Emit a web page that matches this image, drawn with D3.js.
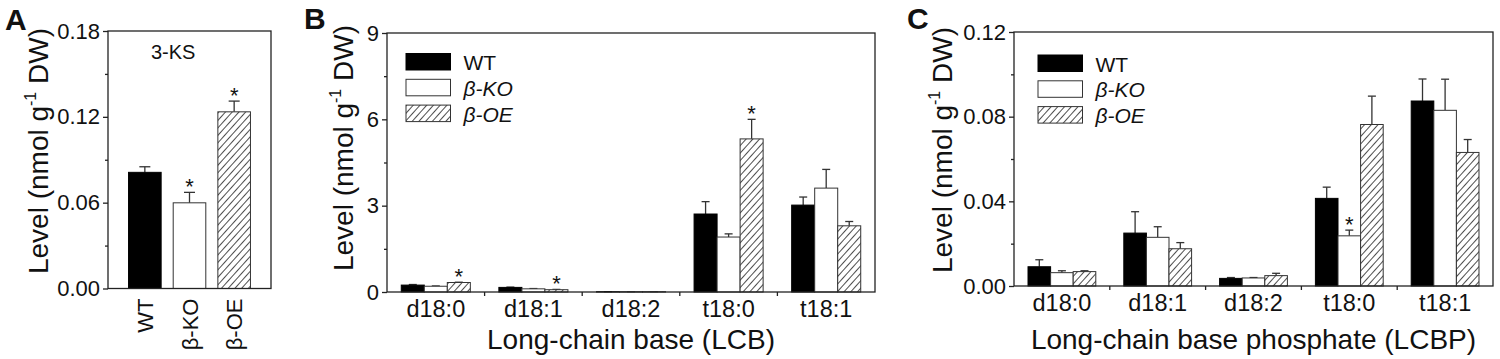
<!DOCTYPE html>
<html>
<head>
<meta charset="utf-8">
<script src="https://cdn.jsdelivr.net/npm/d3@7"></script>
<style>
  html, body { margin: 0; padding: 0; background: #fff; }
  svg { display: block; }
  text { font-family: "Liberation Sans", Arial, Helvetica, sans-serif; fill: #111; }
</style>
</head>
<body>
<svg id="chart" width="1500" height="359"></svg>
<script>
// ---------- DATA ----------
const seriesNames = ["WT", "β-KO", "β-OE"];

// Panel A: 3-KS
const ksLabels = ["WT", "β-KO", "β-OE"];
const ksValues = [0.0812, 0.0599, 0.1235];
const ksErrors = [0.0039, 0.0073, 0.0075];
const ksSignificant = [false, true, true];
const ksTicks = [0, 0.06, 0.12, 0.18];
const ksMinorTicks = [0.03, 0.09, 0.15];

// Panel B: Long-chain base (LCB)
const lcbCategories = ["d18:0", "d18:1", "d18:2", "t18:0", "t18:1"];
const lcbWT = [0.24, 0.16, 0.01, 2.71, 3.02];
const lcbWTErr = [0.02, 0.01, 0.003, 0.43, 0.28];
const lcbKO = [0.20, 0.11, 0.01, 1.91, 3.61];
const lcbKOErr = [0.01, 0.01, 0.003, 0.11, 0.65];
const lcbOE = [0.33, 0.08, 0.01, 5.32, 2.30];
const lcbOEErr = [0.01, 0.01, 0.003, 0.68, 0.15];
const lcbSigOE = [true, true, false, true, false];
const lcbSigKO = [false, false, false, false, false];
const lcbTicks = [0, 3, 6, 9];
const lcbMinorTicks = [1.5, 4.5, 7.5];

// Panel C: Long-chain base phosphate (LCBP)
const lcbpCategories = ["d18:0", "d18:1", "d18:2", "t18:0", "t18:1"];
const lcbpWT = [0.0091, 0.0250, 0.0036, 0.0414, 0.0874];
const lcbpWTErr = [0.0033, 0.0101, 0.0004, 0.0053, 0.0104];
const lcbpKO = [0.0063, 0.0230, 0.0038, 0.0237, 0.0830];
const lcbpKOErr = [0.0009, 0.0050, 0.0002, 0.0027, 0.0147];
const lcbpOE = [0.0068, 0.0176, 0.0049, 0.0763, 0.0631];
const lcbpOEErr = [0.0004, 0.0029, 0.0011, 0.0134, 0.0061];
const lcbpSigOE = [false, false, false, false, false];
const lcbpSigKO = [false, false, false, true, false];
const lcbpTicks = [0, 0.04, 0.08, 0.12];
const lcbpMinorTicks = [0.02, 0.06, 0.10];

// ---------- DRAWING ----------
const svg = d3.select("#chart");
const FONT = '"Liberation Sans", Arial, Helvetica, sans-serif';
const AXIS_COLOR = "#222";
const BAR_STROKE = "#333";

const defs = svg.append("defs");
const pat = defs.append("pattern")
  .attr("id", "hatch")
  .attr("patternUnits", "userSpaceOnUse")
  .attr("width", 5).attr("height", 5)
  .attr("patternTransform", "rotate(42)");
pat.append("rect").attr("width", 5).attr("height", 5).attr("fill", "#fff");
pat.append("line").attr("x1", 2.5).attr("y1", -1).attr("x2", 2.5).attr("y2", 6)
  .attr("stroke", "#3a3a3a").attr("stroke-width", 0.9);

const fills = ["#000", "#fff", "url(#hatch)"];
const strokes = ["#000", BAR_STROKE, BAR_STROKE];

function frameAndYAxis(g, box, y, ticks, minorTicks, fmt) {
  g.append("rect")
    .attr("x", box.left).attr("y", box.top)
    .attr("width", box.right - box.left).attr("height", box.bottom - box.top)
    .attr("fill", "none").attr("stroke", AXIS_COLOR).attr("stroke-width", 1.3);
  const yAxis = d3.axisLeft(y).tickValues(ticks).tickFormat(fmt).tickSize(5).tickPadding(3);
  const ya = g.append("g").attr("transform", `translate(${box.left},0)`).call(yAxis);
  ya.select(".domain").remove();
  ya.selectAll(".tick line").attr("stroke", AXIS_COLOR).attr("stroke-width", 1.3);
  ya.selectAll(".tick text").style("font-family", FONT).style("font-size", "22px").attr("fill", "#111");
  const yMinor = d3.axisLeft(y).tickValues(minorTicks).tickFormat("").tickSize(3);
  const ym = g.append("g").attr("transform", `translate(${box.left},0)`).call(yMinor);
  ym.select(".domain").remove();
  ym.selectAll(".tick line").attr("stroke", AXIS_COLOR).attr("stroke-width", 1.3);
}

function yTitle(g, x, yCenter) {
  const t = g.append("text")
    .attr("transform", `translate(${x},${yCenter}) rotate(-90)`)
    .attr("text-anchor", "middle")
    .style("font-size", "28px");
  t.append("tspan").text("Level (nmol g");
  t.append("tspan").attr("dy", -12).style("font-size", "16px").text("-1");
  t.append("tspan").attr("dy", 12).text(" DW)");
}

function errorBar(g, cx, yTop, yBase, capHalf) {
  g.append("line").attr("x1", cx).attr("x2", cx).attr("y1", yBase).attr("y2", yTop)
    .attr("stroke", "#333").attr("stroke-width", 1.3);
  g.append("line").attr("x1", cx - capHalf).attr("x2", cx + capHalf).attr("y1", yTop).attr("y2", yTop)
    .attr("stroke", "#333").attr("stroke-width", 1.3);
}

function star(g, cx, yTop) {
  g.append("text").attr("x", cx).attr("y", yTop + 3)
    .attr("text-anchor", "middle").style("font-size", "22px").text("*");
}

function panelLetter(letter, x, y) {
  svg.append("text").attr("x", x).attr("y", y)
    .style("font-size", "30px").style("font-weight", "bold").text(letter);
}

// ---------- Panel A ----------
(function () {
  const box = { left: 108, right: 271, top: 31, bottom: 288.5 };
  const g = svg.append("g");
  const x = d3.scaleBand().domain(ksLabels).range([box.left, box.right])
    .paddingInner(0.27).paddingOuter(0.46);
  const y = d3.scaleLinear().domain([0, 0.18]).range([box.bottom, box.top]);

  ksLabels.forEach((lab, i) => {
    const v = ksValues[i];
    errorBar(g, x(lab) + x.bandwidth() / 2, y(v + ksErrors[i]), y(v), 5.5);
    g.append("rect")
      .attr("x", x(lab)).attr("y", y(v))
      .attr("width", x.bandwidth()).attr("height", y(0) - y(v))
      .attr("fill", fills[i]).attr("stroke", strokes[i]).attr("stroke-width", 1);
    if (ksSignificant[i]) star(g, x(lab) + x.bandwidth() / 2, y(v + ksErrors[i]) - 1);
  });

  frameAndYAxis(g, box, y, ksTicks, ksMinorTicks, d3.format(".2f"));

  ksLabels.forEach((lab) => {
    g.append("text")
      .attr("transform", `translate(${x(lab) + x.bandwidth() / 2 + 8},${box.bottom + 10}) rotate(-90)`)
      .attr("text-anchor", "end")
      .style("font-size", "22px").text(lab);
  });

  g.append("text").attr("x", 151).attr("y", 59).style("font-size", "20px").text("3-KS");
  yTitle(g, 48, 151);
  panelLetter("A", 5, 30);
})();

// ---------- Grouped panels ----------
function groupedPanel(opts) {
  const { box, categories, values, errors, sig, ticks, minorTicks, fmt, domainMax,
          xTitle, yTitleX, yTitleY, legendX, legendY, letter, letterX, letterY } = opts;
  const g = svg.append("g");
  const x0 = d3.scaleBand().domain(categories).range([box.left, box.right]).padding(0);
  const x1 = d3.scaleBand().domain(seriesNames).range([0, x0.bandwidth()])
    .paddingInner(0).paddingOuter(0.62);
  const y = d3.scaleLinear().domain([0, domainMax]).range([box.bottom, box.top]);

  seriesNames.forEach((s, si) => {
    categories.forEach((c, ci) => {
      const v = values[si][ci];
      const e = errors[si][ci];
      const bx = x0(c) + x1(s);
      const cx = bx + x1.bandwidth() / 2;
      errorBar(g, cx, y(v + e), y(v), 4);
      g.append("rect")
        .attr("x", bx).attr("y", y(v))
        .attr("width", x1.bandwidth()).attr("height", Math.max(0, y(0) - y(v)))
        .attr("fill", fills[si]).attr("stroke", strokes[si]).attr("stroke-width", 1);
      if (sig[si][ci]) star(g, cx, y(v + e) - 1);
    });
  });

  frameAndYAxis(g, box, y, ticks, minorTicks, fmt);

  const xa = d3.axisBottom(x0).tickSize(0).tickPadding(8);
  const xg = g.append("g").attr("transform", `translate(0,${box.bottom})`).call(xa);
  xg.select(".domain").remove();
  xg.selectAll(".tick text").style("font-family", FONT).style("font-size", "23.5px").attr("fill", "#111");
  categories.slice(1).forEach((c) => {
    g.append("line").attr("x1", x0(c)).attr("x2", x0(c))
      .attr("y1", box.bottom).attr("y2", box.bottom + 4)
      .attr("stroke", AXIS_COLOR).attr("stroke-width", 1.3);
  });

  g.append("text").attr("x", (box.left + box.right) / 2).attr("y", 349)
    .attr("text-anchor", "middle").style("font-size", "28px").text(xTitle);

  yTitle(g, yTitleX, yTitleY);

  seriesNames.forEach((s, si) => {
    const ly = legendY + si * 25.8;
    g.append("rect").attr("x", legendX).attr("y", ly)
      .attr("width", 44.5).attr("height", 16.5)
      .attr("fill", fills[si]).attr("stroke", strokes[si]).attr("stroke-width", 1);
    g.append("text").attr("x", legendX + 57.5).attr("y", ly + 16.5)
      .style("font-size", "21px").style("font-style", si === 0 ? "normal" : "italic")
      .text(s);
  });

  panelLetter(letter, letterX, letterY);
}

groupedPanel({
  box: { left: 387, right: 875, top: 33, bottom: 292 },
  categories: lcbCategories,
  values: [lcbWT, lcbKO, lcbOE],
  errors: [lcbWTErr, lcbKOErr, lcbOEErr],
  sig: [[false, false, false, false, false], lcbSigKO, lcbSigOE],
  ticks: lcbTicks, minorTicks: lcbMinorTicks, fmt: d3.format("d"), domainMax: 9,
  xTitle: "Long-chain base (LCB)",
  yTitleX: 353, yTitleY: 148,
  legendX: 406, legendY: 53.5,
  letter: "B", letterX: 304, letterY: 29
});

groupedPanel({
  box: { left: 1014, right: 1493, top: 32, bottom: 286 },
  categories: lcbpCategories,
  values: [lcbpWT, lcbpKO, lcbpOE],
  errors: [lcbpWTErr, lcbpKOErr, lcbpOEErr],
  sig: [[false, false, false, false, false], lcbpSigKO, lcbpSigOE],
  ticks: lcbpTicks, minorTicks: lcbpMinorTicks, fmt: d3.format(".2f"), domainMax: 0.12,
  xTitle: "Long-chain base phosphate (LCBP)",
  yTitleX: 952, yTitleY: 150,
  legendX: 1038, legendY: 55,
  letter: "C", letterX: 907, letterY: 29
});
</script>
</body>
</html>
